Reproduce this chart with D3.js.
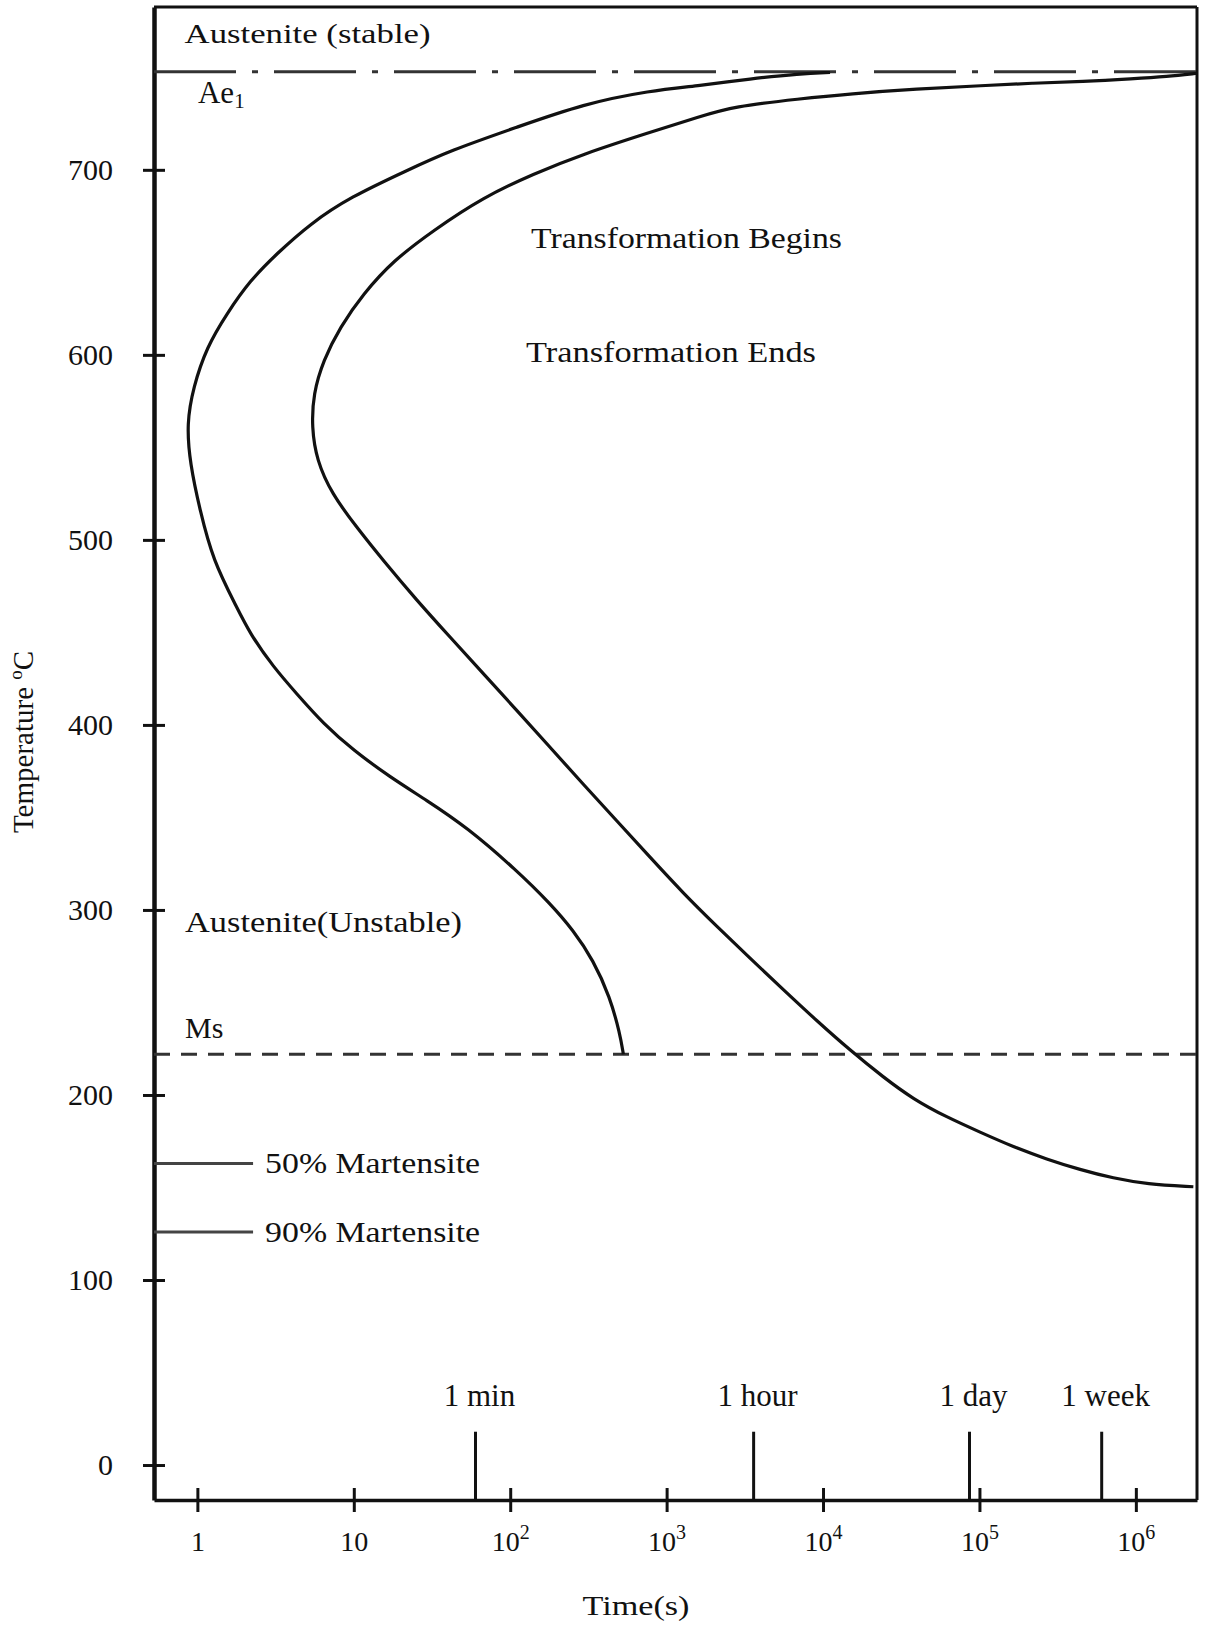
<!DOCTYPE html>
<html><head><meta charset="utf-8">
<script src="https://cdn.jsdelivr.net/npm/d3@7"></script>
<style>
body{margin:0;background:#fff}
text{font-family:"Liberation Serif","Times New Roman",serif;fill:#111}
</style>
</head><body>
<svg id="c" width="1205" height="1626"></svg>
<script>
// ---------- data ----------
const tempTicks = [0,100,200,300,400,500,600,700];
const timeTicks = [1,10,100,1000,10000,100000,1000000];
const timeTickBase = ["1","10","10","10","10","10","10"];
const timeTickSup  = ["","","2","3","4","5","6"];
const markerLabels  = ["1 min","1 hour","1 day","1 week"];
const markerSeconds = [60,3600,86400,604800];
const markerTopTemp = 18;
const ae1Temp = 753;
const msTemp = 222;
const martLabels = ["50% Martensite","90% Martensite"];
const martTemps  = [163,126];
const martEndTime = 2.27;

// Transformation begins curve (time s, temperature C)
const beginTime = [11090,7128,3412,1633,782,293,110,41.2,21.8,9.45,5.25,3.21,2.17,1.54,1.147,0.941,0.854,0.897,1.039,1.258,1.783,2.17,3.06,4.31,6.38,9.93,17.0,29.2,52.7,110,180,253,340,434,503,529];
const beginTemp = [752.6,752.0,749.2,745.5,742.8,735.6,723.0,710.4,699.6,685.2,670.8,654.6,640.2,622.2,604.2,582.5,562.8,541.2,515.9,488.9,463.7,449.3,431.3,416.9,400.7,386.3,371.9,359.3,344.8,321.4,303.5,289.0,272.8,253.0,233.2,222];
// Transformation ends curve
const endTime = [2.46e6,1.58e6,9.59e5,4.59e5,2.2e5,1.06e5,39700,14890,7128,2670,1633,783,293,140.6,67.3,32.2,17.9,11.5,8.17,6.38,5.51,5.38,5.79,7.22,10.4,15.4,25.3,41.2,67.3,110.1,179.7,293.4,479.7,783.3,1279,2091,3414,5574,9115,14880,24290,37790,61800,1.009e5,1.648e5,2.694e5,4.397e5,7.18e5,1.174e6,2.331e6];
const endTemp = [752.2,750.4,749.2,747.7,746.9,745.5,743.7,741.1,738.4,734.2,728.8,720.3,708.6,697.8,685.2,667.2,651.0,633.0,615.0,597.0,579.0,560.9,543.0,525.0,506.9,488.9,467.3,447.5,427.7,407.9,387.9,367.9,348.2,328.5,309.0,291.2,273.9,256.9,240.1,224.2,209.6,197.7,188.0,179.9,171.9,165.3,159.6,155.0,151.8,150.4];

// ---------- scales ----------
const x = d3.scaleLog().domain([0.528, 2.46e6]).range([154, 1197]);
const y = d3.scaleLinear().domain([-18.9, 788]).range([1500, 7]);
const [t0, t1] = x.domain();
const [T0, T1] = y.domain();
const svg = d3.select("#c");
const ink = "#111";

// frame top & right
svg.append("line").attr("x1", x(t0)).attr("x2", x(t1)).attr("y1", y(T1)).attr("y2", y(T1))
  .attr("stroke", ink).attr("stroke-width", 3);
svg.append("line").attr("x1", x(t1)).attr("x2", x(t1)).attr("y1", y(T1)).attr("y2", y(T0))
  .attr("stroke", ink).attr("stroke-width", 3);

// y axis
const ya = svg.append("g").attr("transform", `translate(${x(t0)},0)`)
  .call(d3.axisLeft(y).tickValues(tempTicks).tickSize(11).tickSizeOuter(0).tickPadding(30).tickFormat(d3.format("d")));
ya.attr("font-family", null).attr("font-size", 30);
ya.select(".domain").attr("stroke", ink).attr("stroke-width", 4.5);
ya.selectAll(".tick line").attr("x1", 11).attr("stroke", ink).attr("stroke-width", 3);
ya.selectAll(".tick text").attr("fill", ink);

// x axis
const xa = svg.append("g").attr("transform", `translate(0,${y(T0)})`)
  .call(d3.axisBottom(x).tickValues(timeTicks).tickSize(12).tickSizeOuter(0).tickFormat(() => ""));
xa.attr("font-family", null).attr("font-size", 28);
xa.select(".domain").attr("stroke", ink).attr("stroke-width", 3.5);
xa.selectAll(".tick line").attr("y1", -12).attr("stroke", ink).attr("stroke-width", 3);
xa.selectAll(".tick text").each(function(d, i) {
  const t = d3.select(this).attr("y", 51).attr("dy", null).attr("fill", ink);
  t.text(timeTickBase[i]);
  if (timeTickSup[i]) t.append("tspan").attr("font-size", 20).attr("dy", -12).text(timeTickSup[i]);
});

// Ae1 line
svg.append("line").attr("x1", x(t0)).attr("x2", x(t1)).attr("y1", y(ae1Temp)).attr("y2", y(ae1Temp))
  .attr("stroke", "#333").attr("stroke-width", 3).attr("stroke-dasharray", "82,16,6,16");
// Ms line
svg.append("line").attr("x1", x(t0)).attr("x2", x(t1)).attr("y1", y(msTemp)).attr("y2", y(msTemp))
  .attr("stroke", "#333").attr("stroke-width", 3).attr("stroke-dasharray", "16,11");
// martensite lines
martTemps.forEach((T, i) => {
  svg.append("line").attr("x1", x(t0)).attr("x2", x(martEndTime)).attr("y1", y(T)).attr("y2", y(T))
    .attr("stroke", "#444").attr("stroke-width", 3);
  svg.append("text").attr("x", x(2.71)).attr("y", y(T) + 10).attr("font-size", 30)
    .attr("textLength", 215).attr("lengthAdjust", "spacingAndGlyphs").text(martLabels[i]);
});

// curves
const line = d3.line().x(d => x(d[0])).y(d => y(d[1])).curve(d3.curveBasis);
svg.append("path").datum(beginTime.map((t, i) => [t, beginTemp[i]]))
  .attr("d", line).attr("fill", "none").attr("stroke", ink).attr("stroke-width", 3.2);
svg.append("path").datum(endTime.map((t, i) => [t, endTemp[i]]))
  .attr("d", line).attr("fill", "none").attr("stroke", ink).attr("stroke-width", 3.2);

// time markers
markerSeconds.forEach((s, i) => {
  svg.append("line").attr("x1", x(s)).attr("x2", x(s)).attr("y1", y(T0)).attr("y2", y(markerTopTemp))
    .attr("stroke", ink).attr("stroke-width", 3);
  svg.append("text").attr("x", x(s) + 4).attr("y", y(31.9)).attr("font-size", 31)
    .attr("text-anchor", "middle").text(markerLabels[i]);
});

// annotations
function label(t, T, str, size, len) {
  const e = svg.append("text").attr("x", x(t)).attr("y", y(T)).attr("font-size", size).text(str);
  if (len) e.attr("textLength", len).attr("lengthAdjust", "spacingAndGlyphs");
  return e;
}
label(0.828, 768.5, "Austenite (stable)", 28, 246);
const ae = label(1.009, 736, "Ae", 31);
ae.append("tspan").attr("font-size", 21).attr("dy", 5).text("1");
label(135.8, 657.8, "Transformation Begins", 30, 311);
label(126.2, 596.4, "Transformation Ends", 30, 290);
label(0.833, 288.3, "Austenite(Unstable)", 30, 277);
label(0.833, 230.6, "Ms", 30);

// axis titles
svg.append("text").attr("x", 636).attr("y", 1615).attr("font-size", 28).attr("text-anchor", "middle")
  .attr("textLength", 107).attr("lengthAdjust", "spacingAndGlyphs").text("Time(s)");
const yt = svg.append("text").attr("transform", "translate(33,742) rotate(-90)").attr("font-size", 29)
  .attr("text-anchor", "middle");
yt.append("tspan").text("Temperature ");
yt.append("tspan").attr("font-size", 19).attr("dy", -11).text("o");
yt.append("tspan").attr("dy", 11).text("C");
</script>
</body></html>
